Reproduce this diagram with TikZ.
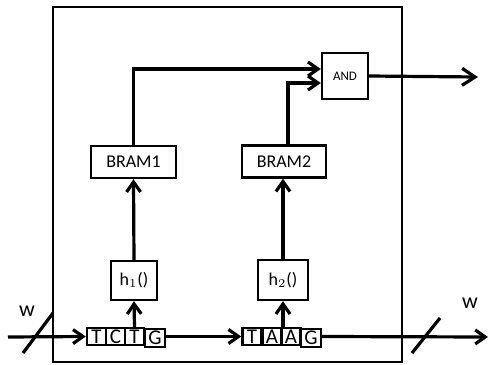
\documentclass[tikz,border=0pt]{standalone}
\usepackage{fontspec}
\setmainfont{Carlito}
\usetikzlibrary{arrows.meta}
\begin{document}
\begin{tikzpicture}[x=0.5pt,y=-0.5pt,
  blk/.style={draw,line width=1.2pt,inner sep=0pt,fill=white},
  cell/.style={blk,minimum width=9.5pt,minimum height=8.5pt,font=\fontsize{10.5}{10.5}\selectfont},
  gcell/.style={blk,minimum width=10pt,minimum height=9pt,font=\fontsize{10.5}{10.5}\selectfont},
  wire/.style={line width=1.6pt},
  arr/.style={wire,-{Straight Barb[length=5pt,width=7pt]}},
  bigarr/.style={wire,-{Straight Barb[length=6.5pt,width=8.5pt]}},
  lbl/.style={font=\fontsize{11}{11}\selectfont}]
\useasboundingbox (0,0) rectangle (489,365);
% outer box
\draw[line width=1pt] (53,7) rectangle (402,362);
% sequence cells
\node[cell] (c1) at (96.5,336.5) {T};
\node[cell] (c2) at (115.5,336.5) {C};
\node[cell] (c3) at (134.5,336.5) {T};
\node[gcell] (c4) at (155,338) {G};
\node[cell] (d1) at (252,336.5) {T};
\node[cell] (d2) at (272,336.5) {A};
\node[cell] (d3) at (291,336.5) {A};
\node[gcell] (d4) at (311,338) {G};
% hash boxes
\node[blk,minimum width=23pt,minimum height=19.5pt,font=\fontsize{9}{9}\selectfont] (h1) at (134,280.5) {h$_1$()};
\node[blk,minimum width=25pt,minimum height=20pt,font=\fontsize{9}{9}\selectfont] (h2) at (283,280) {h$_2$()};
% BRAMs
\node[blk,minimum width=42.5pt,minimum height=16pt,font=\fontsize{9}{9}\selectfont] (bram1) at (133.5,162) {BRAM1};
\node[blk,minimum width=42pt,minimum height=16pt,font=\fontsize{9}{9}\selectfont] (bram2) at (284,161.5) {BRAM2};
% AND
\node[blk,minimum width=23pt,minimum height=23pt,font=\fontsize{6.5}{6.5}\selectfont] (and) at (345,76) {AND};
% coordinates
\coordinate (start) at (8,337);
\coordinate (end) at (488,337);
\coordinate (out) at (478,77);
\coordinate (s1a) at (23,353);
\coordinate (s1b) at (53,313);
\coordinate (s2a) at (412,353);
\coordinate (s2b) at (440,318);
% connectors
\draw[arr] (start) -- (c1.west);
\draw[arr] (c4.east |- c1.center) -- (d1.west);
\draw[arr] (d4.east |- d1.center) -- (end);
\draw[arr] (c3.north) -- (h1.south);
\draw[arr] (h2.south |- d2.north) -- (h2.south);
\draw[arr] (h1.north) -- (bram1.south);
\draw[arr] (h2.north) -- (h2.north |- bram2.south);
\draw[arr] (bram1.north) |- ([yshift=3.5pt]and.west);
\draw[arr] ([xshift=2pt]bram2.north) |- ([yshift=-3.5pt]and.west);
\draw[bigarr] (and.east) -- (out);
% bus slashes
\draw[wire] (s1a) -- (s1b);
\draw[wire] (s2a) -- (s2b);
% labels
\node[lbl] (w1) at (27,311) {w};
\node[lbl] (w2) at (470,303) {w};
\end{tikzpicture}
\end{document}
